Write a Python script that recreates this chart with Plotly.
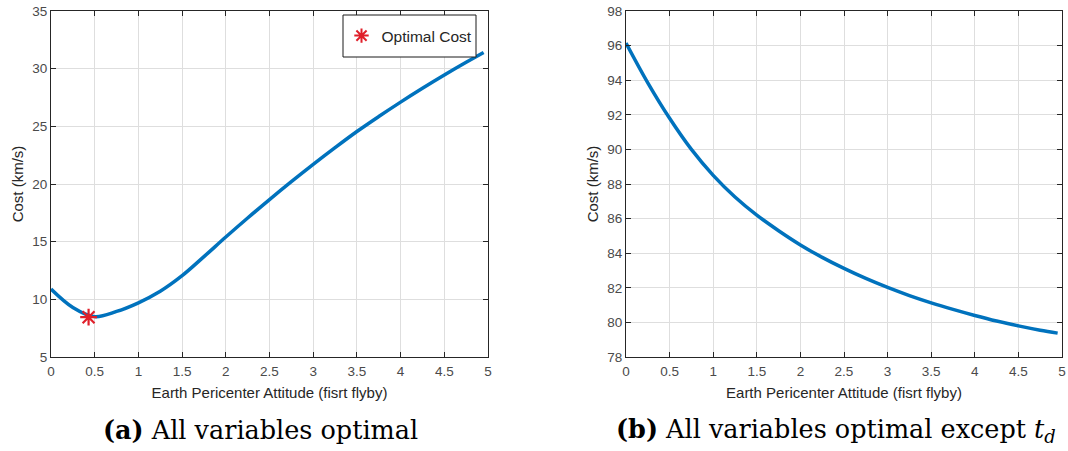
import plotly.graph_objects as go

# Left panel: all variables optimal
x_left = [0, 0.25, 0.5, 0.75, 1.0, 1.25, 1.5, 1.75, 2.0, 2.25, 2.5, 2.75, 3.0,
          3.25, 3.5, 3.75, 4.0, 4.25, 4.5, 4.75, 4.95]
cost_left = [10.9, 9.3, 8.5, 8.95, 9.7, 10.7, 12.05, 13.7, 15.4, 17.05, 18.65, 20.2,
             21.7, 23.15, 24.55, 25.85, 27.1, 28.3, 29.45, 30.55, 31.4]
opt_x = [0.43]
opt_cost = [8.45]

# Right panel: all variables optimal except t_d
x_right = [0, 0.25, 0.5, 0.75, 1.0, 1.25, 1.5, 1.75, 2.0, 2.25, 2.5, 2.75, 3.0,
           3.25, 3.5, 3.75, 4.0, 4.25, 4.5, 4.75, 4.95]
cost_right = [96.15, 93.85, 91.8, 90.0, 88.5, 87.25, 86.2, 85.3, 84.48, 83.76, 83.12,
              82.54, 82.02, 81.55, 81.13, 80.75, 80.4, 80.08, 79.8, 79.55, 79.38]

x_ticks = [0, 0.5, 1, 1.5, 2, 2.5, 3, 3.5, 4, 4.5, 5]
y_ticks_left = [5, 10, 15, 20, 25, 30, 35]
y_ticks_right = [78, 80, 82, 84, 86, 88, 90, 92, 94, 96, 98]

x_title = "Earth Pericenter Attitude (fisrt flyby)"
y_title = "Cost (km/s)"
caption_a = "<b>(a)</b> All variables optimal"
caption_b = "<b>(b)</b> All variables optimal except <i>t</i><sub><i>d</i></sub>"

W, H = 1068, 451
line_color = "#0072BD"
axis_col = "#262626"
tick_col = "#4a4a4a"
grid_col = "#dedede"
sans = "Liberation Sans, Arial, sans-serif"
serif = "DejaVu Serif, Liberation Serif, serif"

fig = go.Figure()
fig.add_trace(go.Scatter(x=x_left, y=cost_left, mode="lines",
                         line=dict(color=line_color, width=3.5, shape="spline"),
                         showlegend=False, xaxis="x", yaxis="y"))
fig.add_trace(go.Scatter(x=opt_x, y=opt_cost, mode="markers", name="Optimal Cost",
                         marker=dict(symbol="asterisk-open", size=14, color="#e0202a",
                                     line=dict(color="#e0202a", width=2.2)),
                         showlegend=True, xaxis="x", yaxis="y"))
fig.add_trace(go.Scatter(x=x_right, y=cost_right, mode="lines",
                         line=dict(color=line_color, width=3.5, shape="spline"),
                         showlegend=False, xaxis="x2", yaxis="y2"))

def px_x(p):
    return p / W

def px_y(p):
    return 1 - p / H

ax_common = dict(showline=True, linecolor=axis_col, linewidth=1, mirror="ticks",
                 ticks="inside", ticklen=5, tickcolor=axis_col, showgrid=True,
                 gridcolor=grid_col, gridwidth=1, zeroline=False, automargin=False,
                 ticklabeloverflow="allow",
                 tickfont=dict(family=sans, size=13.5, color=tick_col))
title_font = dict(family=sans, size=15, color=axis_col)

# legend box (opaque, like the MATLAB legend)
leg_x0, leg_x1, leg_y0, leg_y1 = 343, 476, 15, 57

fig.update_layout(
    width=W, height=H, margin=dict(l=0, r=0, t=0, b=0, autoexpand=False),
    paper_bgcolor="white", plot_bgcolor="white",
    xaxis=dict(domain=[px_x(51), px_x(488)], range=[0, 5], tickvals=x_ticks,
               ticktext=[f"{v:g}" for v in x_ticks], anchor="y", ticklabelstandoff=2,
               title=dict(text=x_title, standoff=9, font=title_font), **ax_common),
    yaxis=dict(domain=[px_y(357), px_y(11)], range=[5, 35], tickvals=y_ticks_left, anchor="x",
               title=dict(text=y_title, standoff=5, font=title_font), **ax_common),
    xaxis2=dict(domain=[px_x(626), px_x(1062)], range=[0, 5], tickvals=x_ticks,
                ticktext=[f"{v:g}" for v in x_ticks], anchor="y2", ticklabelstandoff=2,
                title=dict(text=x_title, standoff=9, font=title_font), **ax_common),
    yaxis2=dict(domain=[px_y(357), px_y(11)], range=[78, 98], tickvals=y_ticks_right, anchor="x2",
                title=dict(text=y_title, standoff=5, font=title_font), **ax_common),
    shapes=[dict(type="rect", xref="paper", yref="paper",
                 x0=px_x(leg_x0), x1=px_x(leg_x1), y0=px_y(leg_y1), y1=px_y(leg_y0),
                 line=dict(color="#1a1a1a", width=1), fillcolor="white", layer="above")],
    legend=dict(x=px_x((leg_x0 + leg_x1) / 2), y=px_y((leg_y0 + leg_y1) / 2),
                xanchor="center", yanchor="middle",
                bgcolor="rgba(0,0,0,0)", borderwidth=0,
                font=dict(family=sans, size=15.5, color="#262626"),
                itemsizing="constant"),
    annotations=[
        dict(text=caption_a, x=px_x(260), y=px_y(430), xref="paper", yref="paper",
             showarrow=False, xanchor="center", yanchor="middle",
             font=dict(family=serif, size=25.5, color="black")),
        dict(text=caption_b, x=px_x(836), y=px_y(430), xref="paper", yref="paper",
             showarrow=False, xanchor="center", yanchor="middle",
             font=dict(family=serif, size=25.5, color="black")),
    ],
)

fig.write_html("out.html", config={"displayModeBar": False},
               post_script=("document.documentElement.style.overflow='hidden';"
                            "document.body.style.margin='0';document.body.style.overflow='hidden';"))
